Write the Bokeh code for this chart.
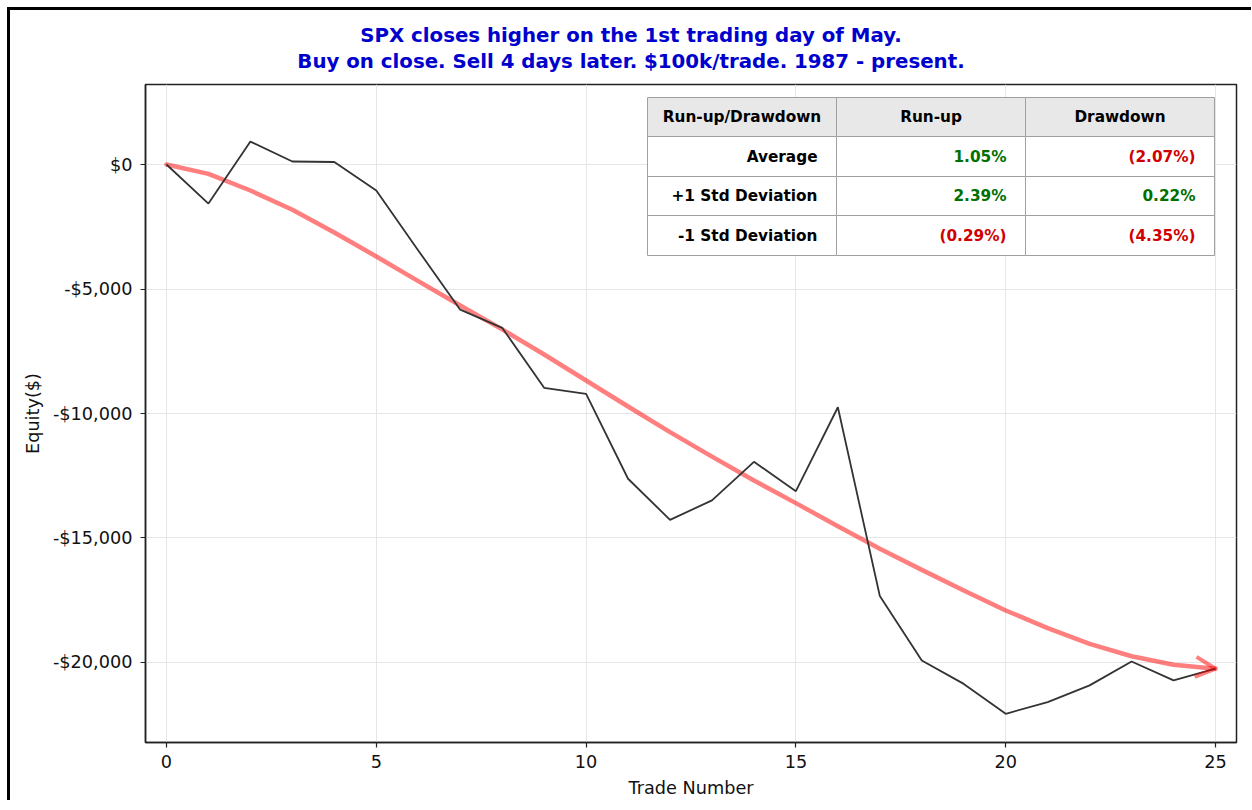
from bokeh.plotting import figure
from bokeh.models import Div, Arrow, OpenHead, CustomJSTickFormatter, FixedTicker, Range1d, ColumnDataSource
from bokeh.layouts import column
from bokeh.core.properties import value
from bokeh.embed import file_html
from bokeh.resources import INLINE

# ---------------- data ----------------
trade_number = list(range(26))
equity = [0, -1570, 920, 120, 100, -1040, -3450, -5830, -6560, -8970, -9210,
          -12620, -14270, -13490, -11940, -13120, -9750, -17330, -19920, -20860,
          -22060, -21590, -20920, -19960, -20720, -20250]
trend = [0, -375, -1044, -1820, -2730, -3695, -4685, -5663, -6620, -7630, -8675,
         -9720, -10750, -11730, -12690, -13600, -14530, -15435, -16280, -17110,
         -17910, -18620, -19250, -19750, -20090, -20250]

x_ticks = [0, 5, 10, 15, 20, 25]
y_ticks = [0, -5000, -10000, -15000, -20000]

title_lines = ["SPX closes higher on the 1st trading day of May.",
               "Buy on close. Sell 4 days later. $100k/trade. 1987 - present."]

table_header = ["Run-up/Drawdown", "Run-up", "Drawdown"]
row_labels = ["Average", "+1 Std Deviation", "-1 Std Deviation"]
runup = ["1.05%", "2.39%", "(0.29%)"]
drawdown = ["(2.07%)", "0.22%", "(4.35%)"]

FONT = "DejaVu Sans"
GREEN = "#007000"
RED = "#d00000"

# ---------------- layout geometry (page pixels) ----------------
FL, FT, FR, FB = 145, 84, 1236, 742
X0, X1 = -0.5, 25.5
Y0, Y1 = -23213, 3213

def px_x(px):
    return X0 + (px - FL) / (FR - FL) * (X1 - X0)

def px_y(py):
    return Y1 - (py - FT) / (FB - FT) * (Y1 - Y0)

p = figure(frame_width=FR - FL, frame_height=FB - FT,
           min_border_left=135, min_border_top=10, min_border_right=8, min_border_bottom=50,
           x_range=Range1d(X0, X1), y_range=Range1d(Y0, Y1),
           output_backend="svg", toolbar_location=None, tools="",
           background_fill_color="white", border_fill_color="white")

p.outline_line_color = "#222222"
p.outline_line_width = 1.5

for ax in (p.xaxis[0], p.yaxis[0]):
    ax.axis_line_color = "#222222"
    ax.axis_line_width = 1.5
    ax.major_tick_line_color = "#222222"
    ax.major_tick_line_width = 1.2
    ax.major_tick_out = 5
    ax.major_tick_in = 0
    ax.minor_tick_line_color = None
    ax.major_label_text_font = FONT
    ax.major_label_text_font_size = "17.7px"
    ax.major_label_text_color = "#111111"
    ax.axis_label_text_font = FONT
    ax.axis_label_text_font_size = "17.7px"
    ax.axis_label_text_font_style = "normal"
    ax.axis_label_text_color = "#111111"

p.xaxis.ticker = FixedTicker(ticks=x_ticks)
p.yaxis.ticker = FixedTicker(ticks=y_ticks)
p.yaxis.formatter = CustomJSTickFormatter(code="""
    const a = Math.abs(tick).toLocaleString('en-US');
    return (tick < 0 ? '-' : '') + '$' + a;
""")
p.xaxis.axis_label = "Trade Number"
p.yaxis.axis_label = "Equity($)"
p.xaxis.major_label_standoff = 7
p.yaxis.major_label_standoff = 8
p.xaxis.axis_label_standoff = 7
p.yaxis.axis_label_standoff = 7

p.xgrid.grid_line_color = "#e6e6e6"
p.ygrid.grid_line_color = "#e6e6e6"
p.xgrid.grid_line_width = 1
p.ygrid.grid_line_width = 1

# trend curve
p.line(trade_number, trend, line_color="red", line_alpha=0.5, line_width=4.5,
       line_join="round", line_cap="round")
# equity curve
p.line(trade_number, equity, line_color="#333333", line_width=1.8)
# arrow head
p.add_layout(Arrow(end=OpenHead(size=20, line_color="red", line_alpha=0.5, line_width=4),
                   x_start=trade_number[-2], y_start=trend[-2],
                   x_end=trade_number[-1], y_end=trend[-1], line_alpha=0))

# table
col_edges = [647, 836, 1025, 1214]
row_edges = [97, 136, 176, 215, 255]
cells = dict(left=[], right=[], top=[], bottom=[], fill=[])
for r in range(4):
    for c in range(3):
        cells["left"].append(px_x(col_edges[c]))
        cells["right"].append(px_x(col_edges[c + 1]))
        cells["top"].append(px_y(row_edges[r]))
        cells["bottom"].append(px_y(row_edges[r + 1]))
        cells["fill"].append("#e8e8e8" if r == 0 else "white")
p.quad(left="left", right="right", top="top", bottom="bottom", fill_color="fill",
       line_color="#a0a0a0", line_width=1, source=ColumnDataSource(cells))

def col_of(s):
    return RED if s.startswith("(") else GREEN

TFS = "15.3px"
hx = [px_x((col_edges[c] + col_edges[c + 1]) / 2) for c in range(3)]
hy = [px_y((row_edges[0] + row_edges[1]) / 2)] * 3
p.text(x=hx, y=hy, text=table_header, text_align="center", text_baseline="middle",
       text_font=value(FONT), text_font_style="bold", text_font_size=TFS, text_color="black")

body = dict(x=[], y=[], t=[], c=[])
for r in range(3):
    ym = px_y((row_edges[r + 1] + row_edges[r + 2]) / 2)
    for c, (txt, colr) in enumerate([(row_labels[r], "black"),
                                     (runup[r], col_of(runup[r])),
                                     (drawdown[r], col_of(drawdown[r]))]):
        body["x"].append(px_x(col_edges[c + 1] - 19))
        body["y"].append(ym)
        body["t"].append(txt)
        body["c"].append(colr)
p.text(x="x", y="y", text="t", text_color="c", text_align="right", text_baseline="middle",
       text_font=value(FONT), text_font_style="bold", text_font_size=TFS,
       source=ColumnDataSource(body))

# title block
title_html = ("<div style=\"width:1242px; text-align:center; font-family:'DejaVu Sans'; "
              "font-weight:bold; font-size:19.8px; line-height:26px; color:#0000cd; "
              "padding-top:13px; margin:0;\">" + "<br>".join(title_lines) + "</div>")
title_div = Div(text=title_html, width=1241, height=64, margin=0,
                styles={"background-color": "white"})

layout = column(title_div, p, spacing=0,
                styles={"margin-left": "7px", "margin-top": "7px",
                        "border-left": "3px solid black", "border-top": "3px solid black",
                        "background-color": "white"})

open("out.html", "w").write(file_html(layout, INLINE))
